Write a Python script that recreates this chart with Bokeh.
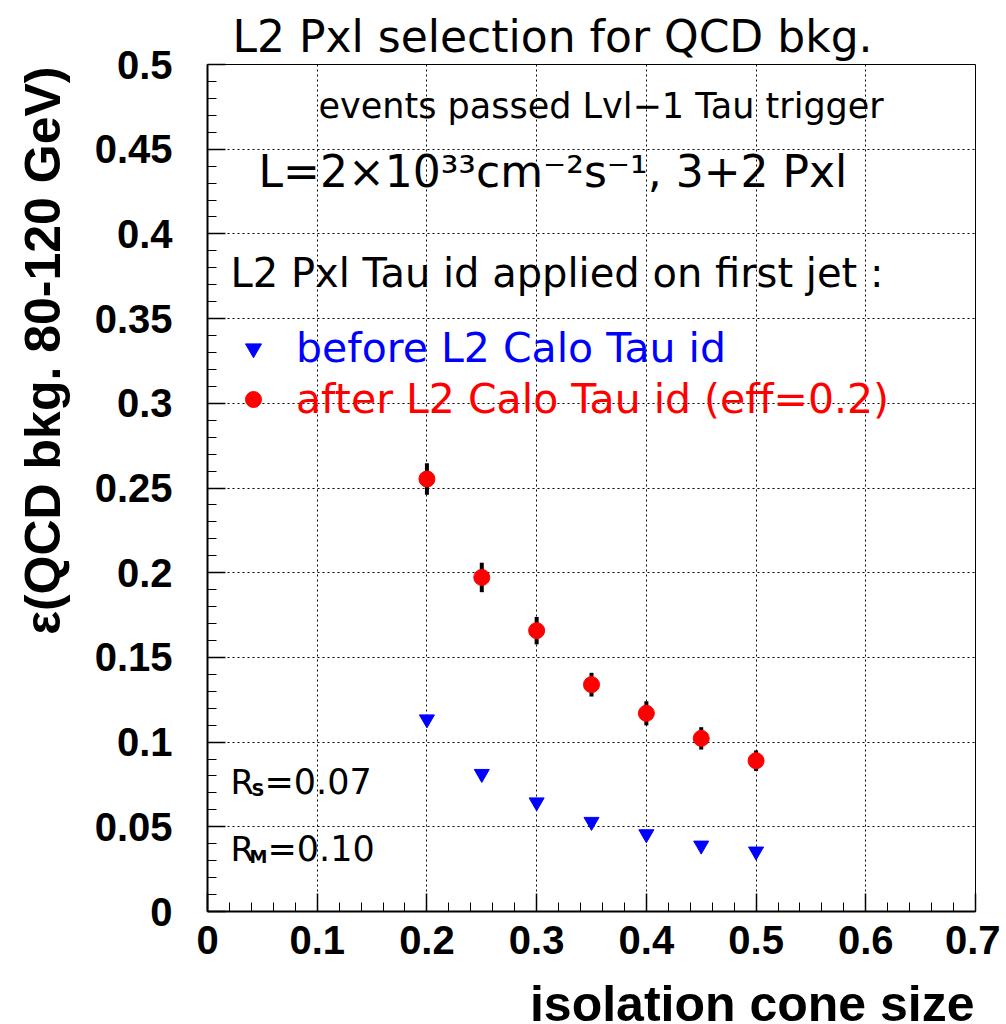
from bokeh.plotting import figure
from bokeh.models import Range1d, FixedTicker, Label, Legend, LegendItem, ColumnDataSource
from bokeh.layouts import row, column
from bokeh.embed import file_html
from bokeh.resources import INLINE
import numpy as np
import math

# ---------------- data ----------------
cone_size = [0.2, 0.25, 0.3, 0.35, 0.4, 0.45, 0.5]
eff_before = [0.1135, 0.0813, 0.0645, 0.0530, 0.0457, 0.0390, 0.0355]
eff_after = [0.2553, 0.1972, 0.1658, 0.1339, 0.1170, 0.1022, 0.0890]
err_after = [0.0093, 0.0087, 0.0081, 0.0070, 0.0071, 0.0066, 0.0061]

x_ticks = [0.0, 0.1, 0.2, 0.3, 0.4, 0.5, 0.6, 0.7]
x_tick_labels = ["0", "0.1", "0.2", "0.3", "0.4", "0.5", "0.6", "0.7"]
y_ticks = [0.0, 0.05, 0.1, 0.15, 0.2, 0.25, 0.3, 0.35, 0.4, 0.45, 0.5]
y_tick_labels = ["0", "0.05", "0.1", "0.15", "0.2", "0.25", "0.3", "0.35", "0.4", "0.45", "0.5"]

title_text = "L2 Pxl selection for QCD bkg."
x_title = "isolation cone size"
y_title = "\u03b5(QCD bkg. 80-120 GeV)"
label_before = "before L2 Calo Tau id"
label_after = "after L2 Calo Tau id (eff=0.2)"

# ---------------- layout (page pixels) ----------------
PAGE_W, PAGE_H = 1000, 1024
LEFT_W = 70                 # strip holding the y title
MAIN_H = 975                # main figure height; strip below holds the x title
FL, FR, FT, FB = 207, 975, 64, 911  # frame edges in page pixels
X0, X1, Y0, Y1 = 0.0, 0.7, 0.0, 0.5
W = PAGE_W - LEFT_W


def dx(px):
    return X0 + (px - FL) / (FR - FL) * (X1 - X0)


def dy(py):
    return Y0 + (FB - py) / (FB - FT) * (Y1 - Y0)


p = figure(width=W, height=MAIN_H, output_backend="svg", toolbar_location=None,
           x_range=Range1d(X0, X1), y_range=Range1d(Y0, Y1),
           min_border_left=FL - LEFT_W, min_border_right=PAGE_W - FR,
           min_border_top=FT, min_border_bottom=MAIN_H - FB,
           background_fill_color="white", border_fill_color="white")

p.title.text = title_text
p.title.align = "left"
p.title.offset = 25
p.title.text_font = "DejaVu Sans"
p.title.text_font_style = "normal"
p.title.text_font_size = "44px"
p.title.text_color = "black"
p.title.standoff = 6

p.outline_line_color = "black"
p.outline_line_width = 1

minor_x = [round(v, 4) for v in np.arange(0, 0.7001, 0.02)]
minor_y = [round(v, 4) for v in np.arange(0, 0.5001, 0.01)]
p.xaxis.ticker = FixedTicker(ticks=x_ticks, minor_ticks=minor_x)
p.yaxis.ticker = FixedTicker(ticks=y_ticks, minor_ticks=minor_y)
p.xaxis.major_label_overrides = dict(zip(x_ticks, x_tick_labels))
p.yaxis.major_label_overrides = dict(zip(y_ticks, y_tick_labels))

for ax in (p.xaxis, p.yaxis):
    ax.axis_line_width = 2
    ax.axis_line_color = "black"
    ax.major_tick_in = 18
    ax.major_tick_out = 0
    ax.minor_tick_in = 9
    ax.minor_tick_out = 0
    ax.major_tick_line_width = 1.5
    ax.minor_tick_line_width = 1
    ax.major_tick_line_color = "black"
    ax.minor_tick_line_color = "black"
    ax.major_label_text_font = "Liberation Sans"
    ax.major_label_text_font_style = "bold"
    ax.major_label_text_font_size = "40px"
    ax.major_label_text_color = "black"
p.yaxis.major_label_standoff = 35
p.xaxis.major_label_standoff = 14

p.xgrid.ticker = FixedTicker(ticks=x_ticks)
p.ygrid.ticker = FixedTicker(ticks=y_ticks)
p.grid.grid_line_color = "black"
p.grid.grid_line_dash = "2 3"
p.grid.grid_line_width = 1
p.grid.grid_line_alpha = 1.0

# ---------------- glyphs ----------------
src_b = ColumnDataSource(dict(x=cone_size, y=eff_before))
src_a = ColumnDataSource(dict(x=cone_size, y=eff_after,
                              lo=[v - e for v, e in zip(eff_after, err_after)],
                              hi=[v + e for v, e in zip(eff_after, err_after)]))

r_blue = p.scatter("x", "y", source=src_b, marker="inverted_triangle", size=15,
                   fill_color="blue", line_color="blue")
p.segment(x0="x", y0="lo", x1="x", y1="hi", source=src_a, line_color="black", line_width=4)
r_red = p.scatter("x", "y", source=src_a, marker="circle", size=16,
                  fill_color="red", line_color="red")

# legends (one per colour)
for rend, lab, col, gy in ((r_blue, label_before, "blue", 352), (r_red, label_after, "red", 403)):
    leg = Legend(items=[LegendItem(label=lab, renderers=[rend])],
                 location=(26, FB - (gy + 20)),
                 border_line_alpha=0, background_fill_alpha=0,
                 padding=0, margin=0, spacing=0,
                 glyph_width=40, glyph_height=40, label_height=40,
                 label_standoff=23, label_text_font="DejaVu Sans",
                 label_text_font_size="41px", label_text_color=col)
    p.add_layout(leg)

# ---------------- texts ----------------
def add_label(text, px, py, size, font="DejaVu Sans", style="normal"):
    p.add_layout(Label(x=dx(px), y=dy(py), text=text, text_font=font,
                       text_font_size=size, text_font_style=style,
                       text_align="left", text_baseline="middle", text_color="black"))


add_label("events passed Lvl\u22121 Tau trigger", 318, 105, "35px")
add_label("L=2\u00d710\u00b3\u00b3cm\u207b\u00b2s\u207b\u00b9, 3+2 Pxl", 258, 171, "44px")
add_label("L2 Pxl Tau id applied on first jet :", 230, 272, "40px")

add_label("R", 230, 781, "34px")
add_label("S", 251, 789, "18px", style="bold")
add_label("=0.07", 264, 781, "35px")
add_label("R", 230, 848, "34px")
add_label("M", 249, 856, "18px", style="bold")
add_label("=0.10", 267, 848, "35px")


# ---------------- axis title strips (ROOT style: titles at the axis end) ----------------
def strip(width, height):
    f = figure(width=width, height=height, output_backend="svg", toolbar_location=None,
               x_range=Range1d(0, 1), y_range=Range1d(0, 1),
               x_axis_type=None, y_axis_type=None, min_border=0,
               background_fill_color="white", border_fill_color="white")
    f.outline_line_color = None
    f.grid.visible = False
    return f


py_strip = strip(LEFT_W, PAGE_H)
py_strip.add_layout(Label(x=42, y=PAGE_H - 66, x_units="screen", y_units="screen",
                          text=y_title, angle=math.pi / 2,
                          text_font="Liberation Sans", text_font_style="bold",
                          text_font_size="50px", text_color="black",
                          text_align="right", text_baseline="middle"))

# the column aligns this strip's frame with the main frame (page x 207..975)
px_strip = strip(W, PAGE_H - MAIN_H)
px_strip.add_layout(Label(x=FR - FL - 1, y=PAGE_H - 1003, x_units="screen", y_units="screen",
                          text=x_title, text_font="Liberation Sans", text_font_style="bold",
                          text_font_size="50px", text_color="black",
                          text_align="right", text_baseline="middle"))

layout = row(py_strip, column(p, px_strip, spacing=0), spacing=0)

open("out.html", "w").write(file_html(layout, INLINE))
